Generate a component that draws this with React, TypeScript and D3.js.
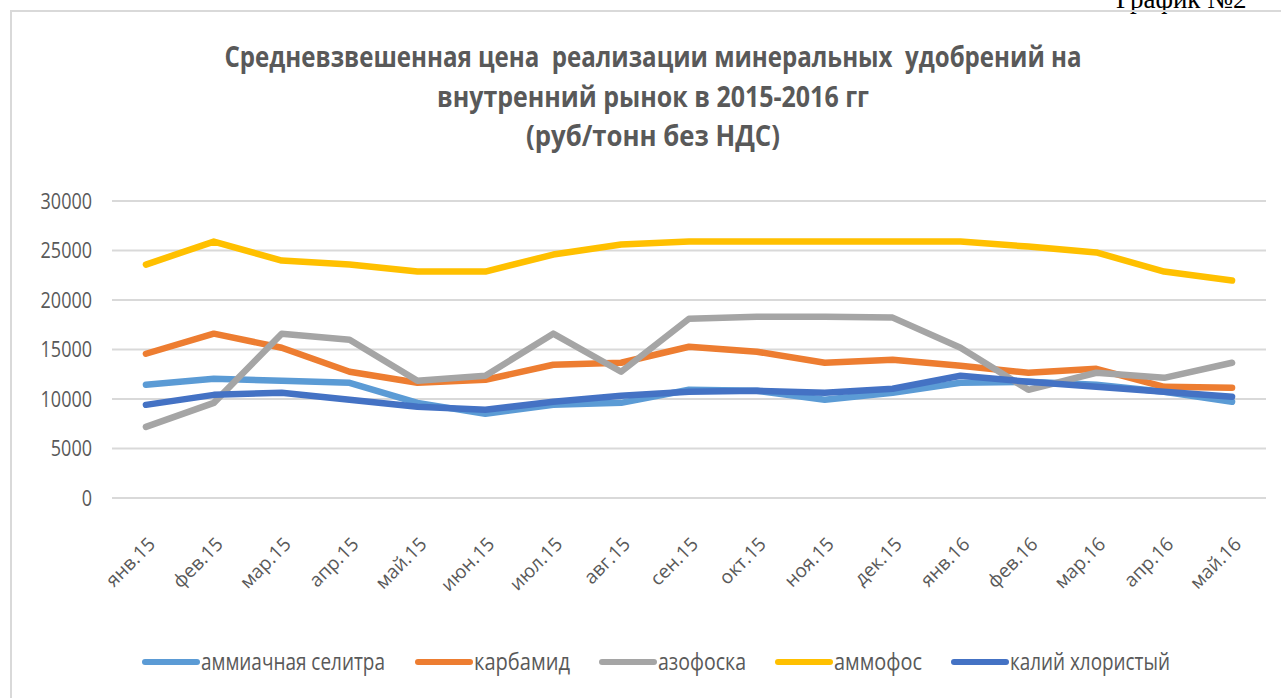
import * as d3 from 'd3'
import React from 'react'

const months = ['янв.15', 'фев.15', 'мар.15', 'апр.15', 'май.15', 'июн.15', 'июл.15', 'авг.15', 'сен.15',
  'окт.15', 'ноя.15', 'дек.15', 'янв.16', 'фев.16', 'мар.16', 'апр.16', 'май.16']

const ammoniumNitrate = [11440, 12040, 11840, 11640, 9610, 8500, 9410, 9610, 10930, 10830, 9920, 10630, 11640, 11740, 11440, 10730, 9720]
const carbamide = [14570, 16600, 15180, 12750, 11640, 11940, 13460, 13660, 15280, 14780, 13660, 13970, 13360, 12650, 13050, 11230, 11130]
const azofoska = [7190, 9610, 16600, 15990, 11840, 12350, 16600, 12750, 18110, 18320, 18320, 18220, 15180, 10930, 12650, 12140, 13660]
const ammophos = [23580, 25900, 23980, 23580, 22870, 22870, 24590, 25600, 25900, 25900, 25900, 25900, 25900, 25400, 24800, 22870, 21960]
const potassiumChloride = [9410, 10420, 10630, 9920, 9210, 8910, 9720, 10320, 10730, 10830, 10630, 11030, 12350, 11740, 11230, 10730, 10220]

const seriesNames = ['аммиачная селитра', 'карбамид', 'азофоска', 'аммофос', 'калий хлористый']
const seriesColors = ['#5B9BD5', '#ED7D31', '#A5A5A5', '#FFC000', '#4472C4']
const yTicks = [0, 5000, 10000, 15000, 20000, 25000, 30000]

const titleLines = ['Средневзвешенная цена  реализации минеральных  удобрений на', 'внутренний рынок в 2015-2016 гг', '(руб/тонн без НДС)']

const W = 1281
const H = 698
const plot = { left: 112, right: 1266, top: 201, bottom: 498 }
const font = '"Open Sans", "Liberation Sans", sans-serif'
const textColor = '#595959'

// legend layout (x of each swatch start) and text widths
const legendX = [145, 418, 602, 778, 954]
const legendW = [184, 96, 88, 88, 160]

export default function App() {
  const series = [ammoniumNitrate, carbamide, azofoska, ammophos, potassiumChloride]

  const x = d3.scalePoint<string>().domain(months).range([plot.left, plot.right]).padding(0.5)
  const y = d3.scaleLinear().domain([0, 30000]).range([plot.bottom, plot.top])

  const line = d3.line<number>()
    .x((d, i) => x(months[i]) as number)
    .y(d => y(d))

  return (
    <svg width={W} height={H} style={{ position: 'absolute', left: 0, top: 0, background: '#fff' }}>
      <rect x={0} y={0} width={W} height={H} fill="#fff" />
      <text x={1116} y={8} fontFamily='"Liberation Serif", "Times New Roman", serif' fontSize={27} fill="#000">График №2</text>
      <rect x={11} y={11} width={W + 20} height={H + 20} fill="none" stroke="#d9d9d9" strokeWidth={2} />

      {titleLines.map((t, i) => (
        <g key={i} transform={`translate(653,${67 + i * 39.5}) scale(1,1.12)`}>
          <text x={0} y={0} textAnchor="middle" fontFamily={font} fontWeight="bold" style={{ whiteSpace: 'pre' }}
            fontSize={25} fill={textColor} textLength={[857, 432, 254][i]} lengthAdjust="spacingAndGlyphs">
            {t}
          </text>
        </g>
      ))}

      {yTicks.map(t => (
        <g key={t}>
          <line x1={plot.left} x2={plot.right} y1={y(t)} y2={y(t)} stroke="#d9d9d9" strokeWidth={2} />
          <g transform={`translate(92,${y(t)}) scale(1,1.2)`}>
            <text x={0} y={0} dy="0.36em" textAnchor="end" fontFamily={font} fontSize={18} fill={textColor}>{t}</text>
          </g>
        </g>
      ))}

      {months.map(m => (
        <text key={m} transform={`translate(${(x(m) as number) + 1},${536}) rotate(-45)`} textAnchor="end"
          dy="0.7em" fontFamily={font} fontSize={19} fill={textColor}>{m}</text>
      ))}

      {series.map((s, i) => (
        <path key={i} d={line(s) || ''} fill="none" stroke={seriesColors[i]} strokeWidth={6.5}
          strokeLinecap="round" strokeLinejoin="round" />
      ))}

      {seriesNames.map((n, i) => (
        <g key={n} transform={`translate(${legendX[i]},662)`}>
          <line x1={0} x2={52} y1={0} y2={0} stroke={seriesColors[i]} strokeWidth={6} strokeLinecap="round" />
          <g transform="translate(56,0) scale(1,1.2)">
            <text x={0} y={0} dy="0.35em" fontFamily={font} fontSize={19} fill={textColor}
              textLength={legendW[i]} lengthAdjust="spacingAndGlyphs">{n}</text>
          </g>
        </g>
      ))}
    </svg>
  )
}
